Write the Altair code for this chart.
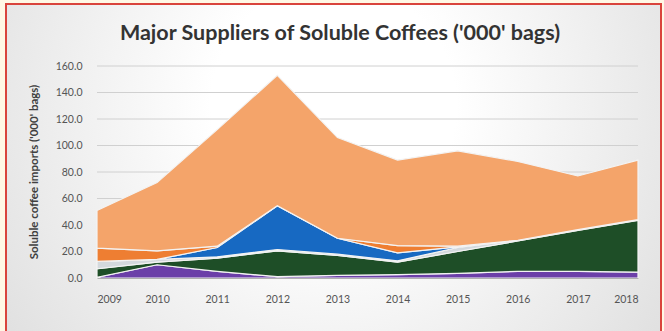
import altair as alt
import pandas as pd

years = [2009, 2010, 2011, 2012, 2013, 2014, 2015, 2016, 2017, 2018]
series_names = ["S1", "S2", "S3", "S4", "S5", "S6"]
series_colors = ["#6B3FA8", "#1E4E27", "#D4D9DD", "#1769C2", "#EE7E32", "#F4A46A"]

purple = [0.5, 10, 5, 1, 2, 2.5, 3.5, 5, 5, 4.5]
green = [6.5, 2, 10, 19.5, 15, 9.5, 16.5, 23, 31, 39]
gray = [5.5, 2, 1, 1, 1, 1, 3, 0.5, 0.5, 0.5]
blue = [0, 0, 7, 33, 12, 6, 0.5, 0, 0, 0]
dark_orange = [10, 6.5, 1, 0, 0, 5.5, 0.5, 0, 0, 0]
light_orange = [28.5, 51.5, 88, 98.5, 76, 64.5, 72, 59.5, 40.5, 45]

y_ticks = [0, 20, 40, 60, 80, 100, 120, 140, 160]
title_text = "Major Suppliers of Soluble Coffees ('000' bags)"
y_title_text = "Soluble coffee imports ('000' bags)"

all_series = [purple, green, gray, blue, dark_orange, light_orange]
rows = []
for i, (name, vals) in enumerate(zip(series_names, all_series)):
    for yr, v in zip(years, vals):
        rows.append({"year": yr, "series": name, "value": v, "ord": i})
df = pd.DataFrame(rows)
grid_df = pd.DataFrame({"value": y_ticks[1:]})
one = pd.DataFrame({"k": [0]})

W, H = 541, 212
PAD = {"left": 97, "top": 66, "right": 26, "bottom": 53}

y_scale = alt.Scale(domain=[0, 160], nice=False)
y_axis = alt.Axis(values=y_ticks, format=".1f", title=None, grid=False, ticks=False,
                  domain=False, labelFont="Lato", labelFontSize=10.5,
                  labelColor="#555555", labelPadding=15, zindex=1)

bg = alt.Chart(one).mark_rect(
    fill=alt.Gradient(
        gradient="radial",
        stops=[alt.GradientStop(color="#ffffff", offset=0),
               alt.GradientStop(color="#ffffff", offset=0.25),
               alt.GradientStop(color="#d6d6d6", offset=1)],
        x1=0.5, y1=0.4, x2=0.5, y2=0.4, r1=0, r2=0.75),
    stroke="#d9443c", strokeWidth=2,
).encode(x=alt.value(-91), x2=alt.value(564), y=alt.value(-62), y2=alt.value(272))

grid = alt.Chart(grid_df).mark_rule(color="#d0d0d0", strokeWidth=1).encode(
    y=alt.Y("value:Q", scale=y_scale, axis=y_axis),
    x=alt.value(0), x2=alt.value(W),
)

areas = alt.Chart(df).mark_area(stroke="#f3f3f3", strokeWidth=1.2, opacity=1).encode(
    x=alt.X("year:Q", scale=alt.Scale(domain=[2009, 2018], nice=False, zero=False),
            axis=alt.Axis(values=years, format="d", title=None, grid=False, ticks=False,
                          domain=True, domainColor="#b0b0b0", labelFont="Lato", labelFontSize=10.5,
                          labelColor="#555555", labelPadding=16, zindex=1)),
    y=alt.Y("value:Q", stack="zero", scale=y_scale, axis=y_axis),
    color=alt.Color("series:N", scale=alt.Scale(domain=series_names, range=series_colors), legend=None),
    order=alt.Order("ord:Q", sort="ascending"),
)

title = alt.Chart(one).mark_text(
    text=title_text, font="Lato", fontSize=21.5, fontWeight="bold", color="#333333",
    align="center", baseline="middle",
).encode(x=alt.value(243), y=alt.value(-32))

ytitle = alt.Chart(one).mark_text(
    text=y_title_text, font="Lato", fontSize=11.5, fontWeight="bold", color="#404040",
    align="center", baseline="middle", angle=270,
).encode(x=alt.value(-62), y=alt.value(106))

chart = alt.layer(bg, grid, areas, title, ytitle).properties(
    width=W, height=H, padding=PAD,
    autosize=alt.AutoSizeParams(type="none"),
    background="#FFF8E5",
).configure_view(stroke=None)

chart.save("out.html", embed_options={"renderer": "svg", "actions": False})
